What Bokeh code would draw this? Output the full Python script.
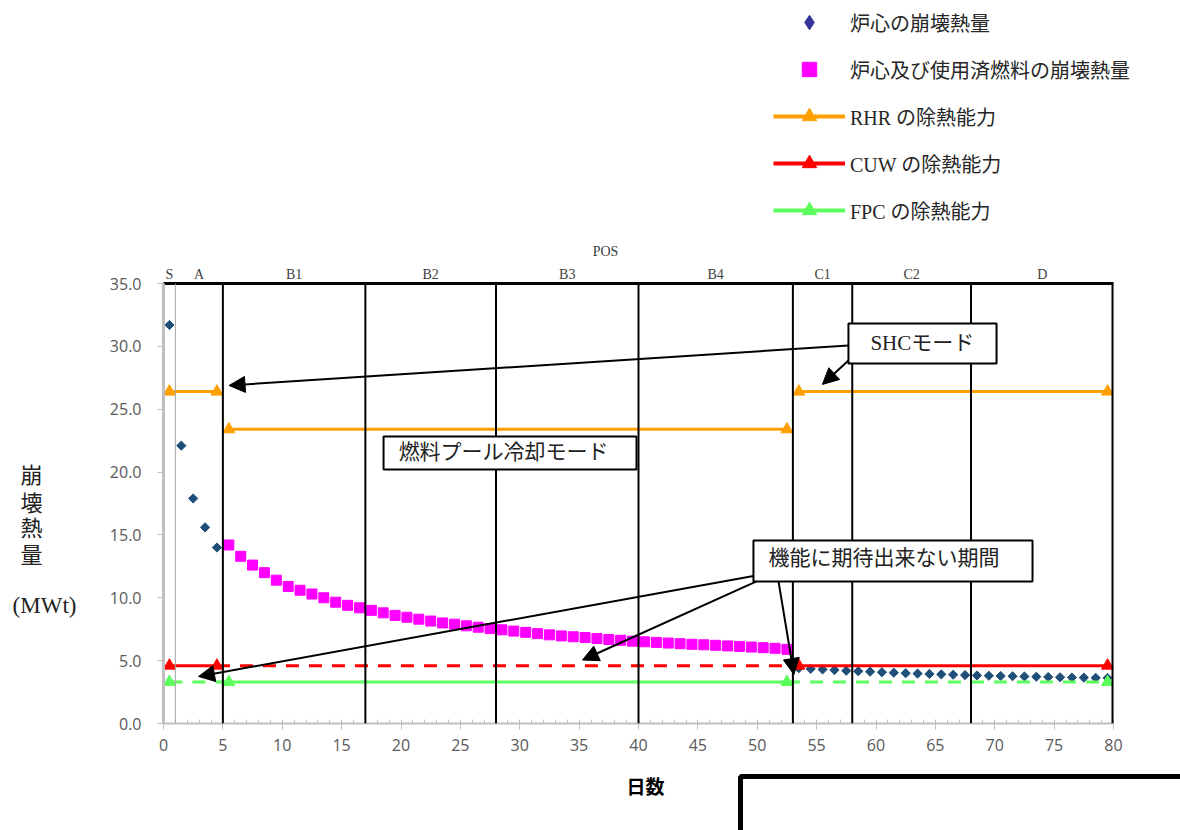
import math
from bokeh.plotting import figure
from bokeh.layouts import column, row
from bokeh.models import (Span, Label, BoxAnnotation, Arrow, NormalHead, Legend, LegendItem,
                          FixedTicker, NumeralTickFormatter, Range1d, LinearAxis)
from bokeh.embed import file_html
from bokeh.resources import INLINE

# ---------------- data ----------------
core_days_early = [0.5, 1.5, 2.5, 3.5, 4.5]
core_heat_early = [31.7, 22.1, 17.9, 15.6, 14.0]
core_days_late = [53.5 + i for i in range(27)]
core_heat_late = [4.40, 4.35, 4.30, 4.25, 4.20, 4.16, 4.12, 4.08, 4.04, 4.00, 3.97, 3.94,
                  3.91, 3.88, 3.85, 3.82, 3.80, 3.78, 3.76, 3.74, 3.72, 3.70, 3.68, 3.66,
                  3.65, 3.63, 3.62]

total_days = [5.5 + i for i in range(48)]
total_heat = [14.2, 13.3, 12.6, 12.0, 11.4, 10.9, 10.6, 10.3, 10.0, 9.65, 9.4, 9.2,
              9.0, 8.8, 8.6, 8.45, 8.3, 8.15, 8.0, 7.9, 7.77, 7.66, 7.55, 7.45,
              7.35, 7.25, 7.15, 7.05, 6.97, 6.9, 6.84, 6.76, 6.68, 6.62, 6.55, 6.5,
              6.45, 6.4, 6.35, 6.3, 6.26, 6.22, 6.17, 6.13, 6.08, 6.03, 5.98, 5.9]

rhr_x = [[0.5, 4.5], [5.5, 52.5], [53.5, 79.5]]
rhr_y = [26.4, 23.4, 26.4]

cuw_level = 4.6
cuw_solid_x = [[0.5, 4.5], [53.5, 79.5]]
cuw_dash_x = [[4.5, 53.5]]
cuw_marker_x = [0.5, 4.5, 53.5, 79.5]

fpc_level = 3.3
fpc_solid_x = [[5.5, 52.5]]
fpc_dash_x = [[0.5, 5.5], [52.5, 79.5]]
fpc_marker_x = [0.5, 5.5, 52.5, 79.5]

pos_names = ["S", "A", "B1", "B2", "B3", "B4", "C1", "C2", "D"]
pos_bounds = [0, 1, 5, 17, 28, 40, 53, 58, 68, 80]

legend_labels = ["炉心の崩壊熱量", "炉心及び使用済燃料の崩壊熱量",
                 "RHR の除熱能力", "CUW の除熱能力", "FPC の除熱能力"]

x_ticks = list(range(0, 81, 5))
y_ticks = [0, 5, 10, 15, 20, 25, 30, 35]

# ---------------- styles ----------------
SERIF = "'Liberation Serif', 'Noto Sans CJK JP', serif"
TICKF = "Open Sans"
C_CORE = "#1F4E79"
C_CORE_LEG = "#333399"
C_TOTAL = "#FF00FF"
C_RHR = "#FFA000"
C_CUW = "#FF0000"
C_FPC = "#5CFF5C"

W, H = 1180, 830
TOP_H, BOT_H, LEFT_W = 262, 60, 100
MID_H = H - TOP_H - BOT_H


def blank(width, height, xr, yr):
    f = figure(width=width, height=height, output_backend="svg", toolbar_location=None,
               x_range=xr, y_range=yr, x_axis_type=None, y_axis_type=None,
               min_border=0)
    f.outline_line_color = None
    f.background_fill_color = "white"
    f.border_fill_color = "white"
    return f


# ---------------- main chart ----------------
y_range = Range1d(0, 35)
p = figure(width=W - LEFT_W, height=MID_H, output_backend="svg", toolbar_location=None,
           x_range=Range1d(0, 80), y_range=y_range,
           min_border_left=63, min_border_right=67, min_border_top=21, min_border_bottom=47)
p.outline_line_color = None
p.xgrid.visible = False
p.ygrid.visible = False
p.background_fill_color = "white"
p.border_fill_color = "white"

p.yaxis.ticker = FixedTicker(ticks=y_ticks)
p.yaxis.formatter = NumeralTickFormatter(format="0.0")
p.xaxis.ticker = FixedTicker(ticks=x_ticks, minor_ticks=list(range(0, 81)))
for ax in (p.xaxis[0], p.yaxis[0]):
    ax.axis_line_color = "#BFBFBF"
    ax.major_tick_line_color = "#BFBFBF"
    ax.minor_tick_line_color = "#BFBFBF"
    ax.major_label_text_color = "#595959"
    ax.major_label_text_font = TICKF
    ax.major_label_text_font_size = "16px"
    ax.major_tick_out = 6
    ax.major_tick_in = 0
p.yaxis.axis_line_width = 3
p.xaxis.axis_line_width = 2
p.yaxis.minor_tick_line_color = None
p.xaxis.minor_tick_in = 4
p.xaxis.minor_tick_out = 0
p.yaxis.major_label_standoff = 16
p.xaxis.major_label_standoff = 9

# POS axis on top (acts as the top border)
pos_centers = [(pos_bounds[i] + pos_bounds[i + 1]) / 2 for i in range(len(pos_names))]
pos_axis = LinearAxis(ticker=FixedTicker(ticks=pos_centers),
                      major_label_overrides={c: n for c, n in zip(pos_centers, pos_names)},
                      major_label_text_font=SERIF, major_label_text_font_size="14px",
                      major_label_text_color="#404040", major_label_standoff=2,
                      major_tick_out=0, major_tick_in=0, minor_tick_out=0, minor_tick_in=0,
                      major_tick_line_color=None, minor_tick_line_color=None,
                      axis_line_color="black", axis_line_width=3)
p.add_layout(pos_axis, "above")

for b in pos_bounds[1:]:
    if b == 1:
        p.add_layout(Span(location=b, dimension="height", line_color="#A6A6A6", line_width=1))
    elif b == 80:
        p.add_layout(Span(location=b, dimension="height", line_color="black", line_width=4))
    else:
        p.add_layout(Span(location=b, dimension="height", line_color="black", line_width=2))

p.scatter(core_days_early + core_days_late, core_heat_early + core_heat_late,
          marker="square", angle=math.pi / 4, size=6.5, fill_color=C_CORE, line_color=C_CORE)
p.scatter(total_days, total_heat, marker="square", size=10,
          fill_color=C_TOTAL, line_color=C_TOTAL)

p.multi_line(xs=rhr_x, ys=[[v, v] for v in rhr_y], line_color=C_RHR, line_width=3)
p.scatter([x for seg in rhr_x for x in seg], [v for v in rhr_y for _ in range(2)],
          marker="triangle", size=12, fill_color=C_RHR, line_color=C_RHR)

p.multi_line(xs=cuw_solid_x, ys=[[cuw_level] * 2 for _ in cuw_solid_x],
             line_color=C_CUW, line_width=3)
p.multi_line(xs=cuw_dash_x, ys=[[cuw_level] * 2 for _ in cuw_dash_x],
             line_color=C_CUW, line_width=3, line_dash="13 10")
p.scatter(cuw_marker_x, [cuw_level] * len(cuw_marker_x), marker="triangle", size=12,
          fill_color=C_CUW, line_color=C_CUW)

p.multi_line(xs=fpc_solid_x, ys=[[fpc_level] * 2 for _ in fpc_solid_x],
             line_color=C_FPC, line_width=3)
p.multi_line(xs=fpc_dash_x, ys=[[fpc_level] * 2 for _ in fpc_dash_x],
             line_color=C_FPC, line_width=3, line_dash="13 10")
p.scatter(fpc_marker_x, [fpc_level] * len(fpc_marker_x), marker="triangle", size=12,
          fill_color=C_FPC, line_color=C_FPC)


def arrow(x0, y0, x1, y1):
    p.add_layout(Arrow(x_start=x0, y_start=y0, x_end=x1, y_end=y1, line_width=2,
                       line_color="black",
                       end=NormalHead(size=16, fill_color="black", line_color="black")))


arrow(57.68, 30.07, 5.52, 26.89)
arrow(57.68, 28.88, 55.49, 26.97)
arrow(49.68, 11.73, 2.95, 3.74)
arrow(49.94, 11.30, 35.28, 5.05)
arrow(51.79, 11.30, 53.09, 3.90)


def box(l, r, t, b):
    p.add_layout(BoxAnnotation(left=l, right=r, top=t, bottom=b, fill_color="white",
                               fill_alpha=1, line_color="black", line_width=2, line_alpha=1))


box(57.68, 70.15, 31.82, 28.64)
box(18.53, 39.83, 22.83, 20.21)
box(49.68, 73.18, 14.56, 11.30)


def txt(fig, x, y, s, size="21px", align="left", font=SERIF, style="normal", color="#222222"):
    fig.add_layout(Label(x=x, y=y, text=s, text_font=font, text_font_size=size,
                         text_font_style=style, text_color=color, text_align=align,
                         text_baseline="middle"))


txt(p, 63.9, 30.28, "SHCモード", align="center")
txt(p, 19.8, 21.56, "燃料プール冷却モード")
txt(p, 50.95, 13.2, "機能に期待出来ない期間")

# ---------------- left strip: stacked y title ----------------
left = blank(LEFT_W, MID_H, Range1d(0, LEFT_W), y_range)
left.min_border_top = 21
left.min_border_bottom = 47
for ch, yy in zip("崩壊熱量", [19.73, 17.52, 15.51, 13.36]):
    txt(left, 31, yy, ch, size="22px", align="center")
txt(left, 44, 9.39, "(MWt)", size="23px", align="center")

# ---------------- top strip: legend + POS title ----------------
top = blank(W, TOP_H, Range1d(0, W), Range1d(0, TOP_H))
txt(top, 605, TOP_H - 251, "POS", size="14px", align="center", color="#404040")
OFF = [-1000, -999]  # legend-only renderers sit outside the visible range
leg_core = top.scatter(OFF[:1], OFF[:1], marker="diamond",
                       fill_color=C_CORE_LEG, line_color=C_CORE_LEG)
leg_total = top.scatter(OFF[:1], OFF[:1], marker="square", fill_color=C_TOTAL,
                        line_color=C_TOTAL)
leg_items = [LegendItem(label=legend_labels[0], renderers=[leg_core]),
             LegendItem(label=legend_labels[1], renderers=[leg_total])]
for lab, col in zip(legend_labels[2:], [C_RHR, C_CUW, C_FPC]):
    ln = top.line(OFF, [OFF[0], OFF[0]], line_color=col, line_width=4)
    mk = top.scatter(OFF[:1], OFF[:1], marker="triangle", fill_color=col, line_color=col)
    leg_items.append(LegendItem(label=lab, renderers=[ln, mk]))
legend = Legend(items=leg_items, location=(773, TOP_H - 228), glyph_width=72, glyph_height=36,
                spacing=11, padding=0, margin=0, label_standoff=5,
                label_text_font=SERIF, label_text_font_size="20px",
                label_text_color="#262626", background_fill_alpha=0, border_line_alpha=0)
top.add_layout(legend)

# ---------------- bottom strip: x title + frame fragment ----------------
bot = blank(W, BOT_H, Range1d(0, W), Range1d(0, BOT_H))
bot.line([740, 740, W + 10], [-10, BOT_H - 54 + 48, BOT_H - 54 + 48], line_color="black",
         line_width=5)
txt(bot, 645, BOT_H - 15, "日数", size="19px", align="center",
    font="Noto Sans CJK JP", style="bold", color="#000000")

layout = column(top, row(left, p), bot)
open("out.html", "w").write(file_html(layout, INLINE))
